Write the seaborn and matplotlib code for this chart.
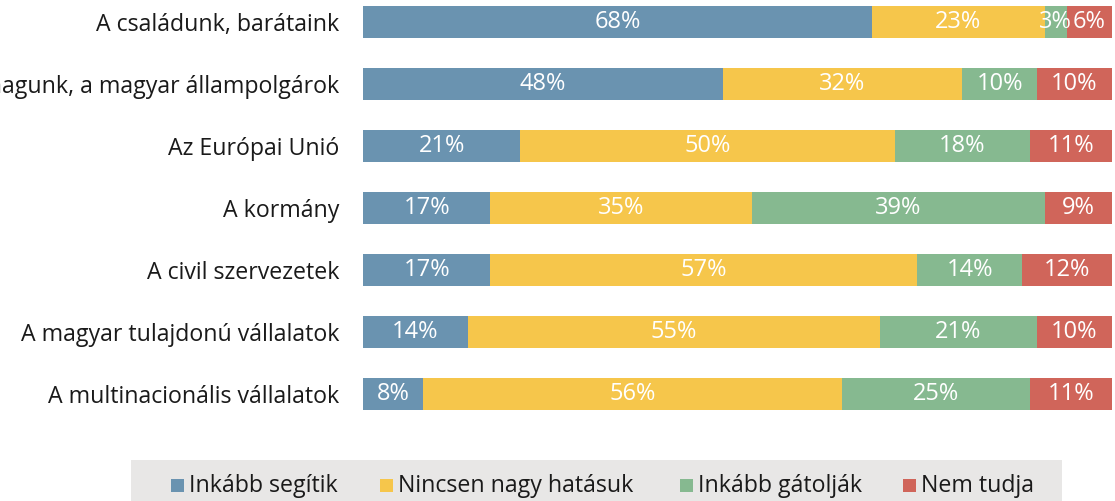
import matplotlib
matplotlib.use("Agg")
import matplotlib.pyplot as plt
import seaborn as sns
import pandas as pd
import numpy as np
from matplotlib.patches import Rectangle

categories = [
    "A családunk, barátaink",
    "Mi magunk, a magyar állampolgárok",
    "Az Európai Unió",
    "A kormány",
    "A civil szervezetek",
    "A magyar tulajdonú vállalatok",
    "A multinacionális vállalatok",
]
series_names = ["Inkább segítik", "Nincsen nagy hatásuk", "Inkább gátolják", "Nem tudja"]
segitik = [68, 48, 21, 17, 17, 14, 8]
nincsen = [23, 32, 50, 35, 57, 55, 56]
gatoljak = [3, 10, 18, 39, 14, 21, 25]
nem_tudja = [6, 10, 11, 9, 12, 10, 11]
colors = ["#6a93b0", "#f6c64b", "#86b990", "#d0655a"]

sns.set_theme(style="white")
plt.rcParams["font.family"] = ["Open Sans", "DejaVu Sans"]

series = [segitik, nincsen, gatoljak, nem_tudja]
df = pd.DataFrame({"cat": categories})
cums = np.cumsum(np.array(series), axis=0)
for name, c in zip(series_names, cums):
    df[name] = c

W, H = 1115, 501
fig = plt.figure(figsize=(W / 100, H / 100), dpi=100)
ax_left, ax_right = 363 / W, 1112 / W
ax_top_px, ax_bot_px = 0, 440
ax = fig.add_axes([ax_left, 1 - ax_bot_px / H, ax_right - ax_left, (ax_bot_px - ax_top_px) / H])

bar_h = 32 / 62
for i in range(3, -1, -1):
    sns.barplot(data=df, y="cat", x=series_names[i], color=colors[i], orient="h",
                width=bar_h, ax=ax, saturation=1, linewidth=0)

ax.set_xlim(0, 100)
ax.set_ylim((440 - 22) / 62, -22 / 62)
for s in ax.spines.values():
    s.set_visible(False)
ax.set_xticks([])
ax.set_xlabel("")
ax.set_ylabel("")
ax.tick_params(axis="y", length=0, pad=17, labelsize=16.7, labelcolor="#1a1a1a")

for j in range(len(categories)):
    start = 0
    for i, vals in enumerate(series):
        v = vals[j]
        ax.text(start + v / 2, j, f"{v}%", ha="center", va="center", color="white", fontsize=17)
        start += v

# legend: background strip and manually positioned entries
fig.patches.append(Rectangle((131 / W, 0), (1062 - 131) / W, 41 / H, transform=fig.transFigure,
                             facecolor="#e8e7e6", edgecolor="none", zorder=0))
sq_x = [171, 380, 680, 903]
for x, c, name in zip(sq_x, colors, series_names):
    fig.patches.append(Rectangle((x / W, 1 - 492 / H), 13 / W, 13 / H, transform=fig.transFigure,
                                 facecolor=c, edgecolor="none", zorder=1))
    fig.text((x + 18) / W, 1 - 486 / H, name, ha="left", va="center", fontsize=16.7, color="#1a1a1a")

fig.savefig("out.png", dpi=100)
